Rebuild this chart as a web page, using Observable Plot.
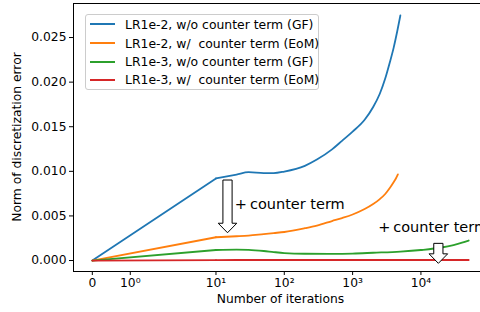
<!DOCTYPE html>
<html><head><meta charset="utf-8">
<script src="https://cdn.jsdelivr.net/npm/d3@7"></script>
<script src="https://cdn.jsdelivr.net/npm/@observablehq/plot@0.6"></script>
<style>
body{margin:0;background:#fff;}
#chart{position:relative;width:480px;height:312px;overflow:hidden;font-family:"DejaVu Sans",sans-serif;}
#legend{position:absolute;left:85px;top:14px;width:232px;height:74px;border:1px solid #cccccc;border-radius:3px;background:rgba(255,255,255,0.8);font-size:12.4px;color:#000;}
.item{position:absolute;left:4px;height:18px;display:flex;align-items:center;white-space:pre;}
.sw{width:25px;height:2px;margin-right:10px;}
</style></head><body><div id="chart"></div>
<script>
// ---- data ----
const seriesNames = [
  "LR1e-2, w/o counter term (GF)",
  "LR1e-2, w/  counter term (EoM)",
  "LR1e-3, w/o counter term (GF)",
  "LR1e-3, w/  counter term (EoM)"
];
const seriesColors = ["#1f77b4", "#ff7f0e", "#2ca02c", "#d62728"];

const itersLR2gf = [0, 10, 20, 30, 50, 70, 100, 200, 300, 500, 700, 1000, 1500, 2000, 2500, 3000, 3500, 4000, 4500, 5000];
const lr2NoCT    = [0, 0.0092, 0.00964, 0.0099, 0.0098, 0.0098, 0.00998, 0.01062, 0.01132, 0.01246, 0.01342, 0.01445, 0.01578, 0.01721, 0.0187, 0.0204, 0.0222, 0.0239, 0.0257, 0.02747];
const itersLR2eom = [0, 10, 20, 30, 50, 70, 100, 200, 300, 500, 700, 1000, 1500, 2000, 2500, 3000, 3500, 4000, 4300, 4600];
const lr2CT       = [0, 0.00261, 0.00272, 0.0028, 0.00297, 0.00308, 0.0032, 0.00362, 0.00392, 0.00443, 0.00476, 0.00516, 0.00577, 0.00633, 0.00689, 0.00746, 0.00813, 0.0088, 0.0092, 0.00966];

const itersLR3 = [0, 10, 20, 30, 50, 70, 100, 200, 500, 1000, 2000, 5000, 10000, 20000, 30000, 40000, 50000];
const lr3NoCT  = [0, 0.00118, 0.00123, 0.0012, 0.00107, 0.00095, 0.00084, 0.00076, 0.00075, 0.00078, 0.00087, 0.001, 0.00118, 0.00146, 0.00174, 0.002, 0.00224];
const lr3CT    = [0, 0.00005, 0.00006, 0.00006, 0.00006, 0.00006, 0.00006, 0.00006, 0.00006, 0.00006, 0.00006, 0.00006, 0.00006, 0.00006, 0.00006, 0.00006, 0.00006];

const xTickVals = [0, 1, 10, 100, 1000, 10000];
const xTickLabels = ["0", "10\u2070", "10\u00b9", "10\u00b2", "10\u00b3", "10\u2074"];
const yTickVals = [0, 0.005, 0.010, 0.015, 0.020, 0.025];
const xLabel = "Number of iterations";
const yLabel = "Norm of discretization error";

const arrowIters = [15, 18300];
const arrowTop = [0.00897, 0.00187];
const arrowTip = [0.00306, -0.00037];
const noteIters = [18.9, 2370];
const noteVals = [0.00635, 0.00369];
const noteText = "+\u2009counter term";

// ---- matplotlib-style symlog (linthresh 2, linscale 1) ----
const LINTHRESH = 2, LINSCALE = 1;
const linAdj = LINSCALE / (1 - 1 / 10);
function tr(x) {
  const a = Math.abs(x);
  if (a <= LINTHRESH) return x * linAdj;
  return Math.sign(x) * LINTHRESH * (linAdj + Math.log10(a / LINTHRESH));
}

const seriesData = [
  [itersLR2gf, lr2NoCT], [itersLR2eom, lr2CT], [itersLR3, lr3NoCT], [itersLR3, lr3CT]
].map(([its, vals], s) => its.map((it, i) => ({t: tr(it), v: vals[i], s: seriesNames[s]})));

const labelMap = new Map(xTickVals.map((v, i) => [tr(v), xTickLabels[i]]));
const xMax = tr(Math.max(...itersLR3));
const xPad = 0.05 * xMax;

function arrowsMark(index, scales) {
  const g = d3.create("svg:g");
  arrowIters.forEach((it, i) => {
    const cx = scales.x(tr(it)), y0 = scales.y(arrowTop[i]), y1 = scales.y(arrowTip[i]);
    const sw = 4.6, hw = 9.3, hl = 9.5;
    const yb = y1 - hl;
    const d = `M${cx - sw},${y0}L${cx + sw},${y0}L${cx + sw},${yb}L${cx + hw},${yb}L${cx},${y1}L${cx - hw},${yb}L${cx - sw},${yb}Z`;
    g.append("path").attr("d", d).attr("fill", "white").attr("stroke", "black").attr("stroke-width", 1).attr("stroke-linejoin", "miter");
  });
  return g.node();
}

function yLabelMark(index, scales, values, dims) {
  const cx = dims.marginLeft - 56;
  const cy = (dims.marginTop + dims.height - dims.marginBottom) / 2;
  const t = d3.create("svg:text")
    .attr("transform", `translate(${cx},${cy}) rotate(-90)`)
    .attr("text-anchor", "middle")
    .attr("dy", "0.35em")
    .attr("fill", "#000")
    .attr("font-size", 12.3)
    .text(yLabel);
  return t.node();
}

const lineMarks = seriesData.flatMap(data => [
  Plot.line(data.slice(0, 2), {x: "t", y: "v", stroke: "s", strokeWidth: 1.8}),
  Plot.line(data.slice(1), {x: "t", y: "v", stroke: "s", strokeWidth: 1.8, curve: "monotone-x"})
]);

const chart = Plot.plot({
  width: 480, height: 312,
  marginLeft: 73, marginRight: 0, marginTop: 3, marginBottom: 41,
  style: {fontFamily: "'DejaVu Sans', sans-serif", fontSize: "12.3px", background: "#fff", color: "#000"},
  x: {type: "linear", domain: [-xPad, xMax + xPad], range: [73, 487]},
  y: {domain: [-0.00123, 0.02876], range: [271, 3.5]},
  color: {domain: seriesNames, range: seriesColors},
  marks: [
    Plot.axisX({ticks: xTickVals.map(tr), tickFormat: d => labelMap.get(d), tickSize: 4, tickPadding: 3, label: null}),
    Plot.axisY({ticks: yTickVals, tickFormat: d3.format(".3f"), tickSize: 4, tickPadding: 3, label: null}),
    ...lineMarks,
    arrowsMark,
    Plot.text(noteIters.map((it, i) => ({x: tr(it), y: noteVals[i]})), {x: "x", y: "y", text: () => noteText, textAnchor: "start", fontSize: 14.5, fill: "#000"}),
    Plot.text([0], {frameAnchor: "bottom", text: () => xLabel, dy: 31, dx: 3.5, fill: "#000"}),
    yLabelMark,
    Plot.frame({anchor: "top", stroke: "#000"}),
    Plot.frame({anchor: "left", stroke: "#000"}),
    Plot.frame({anchor: "bottom", stroke: "#000"})
  ]
});
const root = document.getElementById("chart");
root.appendChild(chart);

const legend = document.createElement("div");
legend.id = "legend";
const centers = [9.3, 28.3, 46.7, 64.7];
seriesNames.forEach((name, i) => {
  const it = document.createElement("div");
  it.className = "item";
  it.style.top = (centers[i] - 9) + "px";
  const sw = document.createElement("span");
  sw.className = "sw";
  sw.style.background = seriesColors[i];
  const tx = document.createElement("span");
  tx.textContent = name;
  it.appendChild(sw); it.appendChild(tx);
  legend.appendChild(it);
});
root.appendChild(legend);
</script>
</body></html>
